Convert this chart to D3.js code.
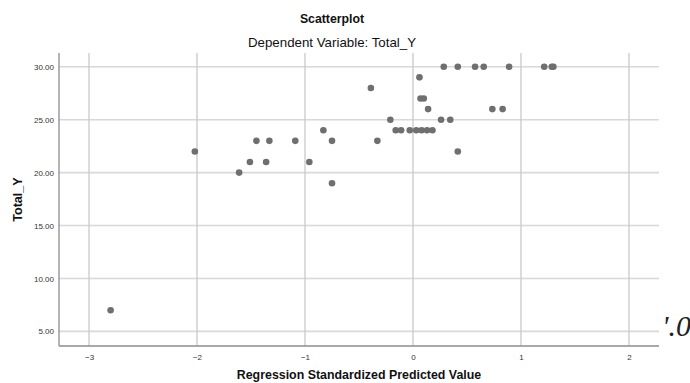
<!DOCTYPE html>
<html>
<head>
<meta charset="utf-8">
<script src="https://d3js.org/d3.v7.min.js"></script>
<style>
  html, body { margin: 0; padding: 0; background: #fff; }
  svg { display: block; font-family: "Liberation Sans", Arial, sans-serif; }
</style>
</head>
<body>
<div id="chart"></div>
<script>
// Regression standardized predicted value (x) vs Total_Y (y)
const predicted = [-2.80, -2.02, -1.61, -1.51, -1.45, -1.36, -1.33, -1.09, -0.96, -0.83,
  -0.75, -0.75, -0.39, -0.33, -0.21, -0.16, -0.11, -0.03, 0.03, 0.08,
  0.13, 0.18, 0.06, 0.07, 0.10, 0.14, 0.26, 0.345, 0.285, 0.415,
  0.415, 0.575, 0.655, 0.735, 0.83, 0.89, 1.215, 1.285, 1.30];
const totalY = [7, 22, 20, 21, 23, 21, 23, 23, 21, 24,
  23, 19, 28, 23, 25, 24, 24, 24, 24, 24,
  24, 24, 29, 27, 27, 26, 25, 25, 30, 30,
  22, 30, 30, 26, 26, 30, 30, 30, 30];
const xTicks = [-3, -2, -1, 0, 1, 2];
const yTicks = [5, 10, 15, 20, 25, 30];

const width = 690, height = 383;
const plot = { left: 59, right: 659, top: 53, bottom: 346 };

const svg = d3.select('#chart').append('svg')
  .attr('width', width).attr('height', height);

const x = d3.scaleLinear().domain([-3.278, 2.278]).range([plot.left, plot.right]);
const y = d3.scaleLinear().domain([3.62, 31.3]).range([plot.bottom, plot.top]);

// Gridlines
svg.append('g').selectAll('line')
  .data(yTicks).enter().append('line')
  .attr('x1', plot.left).attr('x2', plot.right)
  .attr('y1', d => y(d)).attr('y2', d => y(d))
  .attr('stroke', '#d8d8d8').attr('stroke-width', 1.6);

svg.append('g').selectAll('line')
  .data(xTicks).enter().append('line')
  .attr('x1', d => x(d)).attr('x2', d => x(d))
  .attr('y1', plot.top).attr('y2', plot.bottom)
  .attr('stroke', '#c9c9c9').attr('stroke-width', 1.3);

// Axes
const xAxis = svg.append('g')
  .attr('transform', `translate(0,${plot.bottom})`)
  .call(d3.axisBottom(x).tickValues(xTicks).tickSize(0).tickPadding(8).tickFormat(d3.format('d')));
const yAxis = svg.append('g')
  .attr('transform', `translate(${plot.left},0)`)
  .call(d3.axisLeft(y).tickValues(yTicks).tickSize(0).tickPadding(5).tickFormat(d3.format('.2f')));

[xAxis, yAxis].forEach(a => {
  a.select('.domain').attr('stroke', '#8c8c8c').attr('stroke-width', 1.3);
  a.selectAll('text').attr('fill', '#333').attr('font-size', 8)
    .attr('font-family', '"Liberation Sans", Arial, sans-serif');
});
xAxis.select('.domain').attr('d', `M${plot.left},0H${plot.right}`);
yAxis.select('.domain').attr('d', `M0,${plot.top}V${plot.bottom}`);

// Points
svg.append('g').selectAll('circle')
  .data(predicted).enter().append('circle')
  .attr('cx', d => x(d))
  .attr('cy', (d, i) => y(totalY[i]))
  .attr('r', 3.3)
  .attr('fill', '#6f6f6f');

// Titles
svg.append('text')
  .attr('x', 332).attr('y', 23)
  .attr('text-anchor', 'middle')
  .attr('font-size', 12.3).attr('font-weight', 700).attr('fill', '#111')
  .text('Scatterplot');

svg.append('text')
  .attr('x', 332).attr('y', 47)
  .attr('text-anchor', 'middle')
  .attr('font-size', 13.3).attr('fill', '#111')
  .text('Dependent Variable: Total_Y');

svg.append('text')
  .attr('x', (plot.left + plot.right) / 2).attr('y', 379)
  .attr('text-anchor', 'middle')
  .attr('font-size', 12.4).attr('font-weight', 700).attr('fill', '#111')
  .text('Regression Standardized Predicted Value');

svg.append('text')
  .attr('transform', `translate(21.5,${(plot.top + plot.bottom) / 2}) rotate(-90)`)
  .attr('text-anchor', 'middle')
  .attr('font-size', 12.6).attr('font-weight', 700).attr('fill', '#111')
  .text('Total_Y');

// Stray fragment cut off at the right edge of the screenshot
svg.append('text')
  .attr('x', 662).attr('y', 336)
  .attr('font-family', '"Liberation Serif", serif')
  .attr('font-style', 'italic')
  .attr('font-size', 30).attr('fill', '#222')
  .text('\'.0');
</script>
</body>
</html>
